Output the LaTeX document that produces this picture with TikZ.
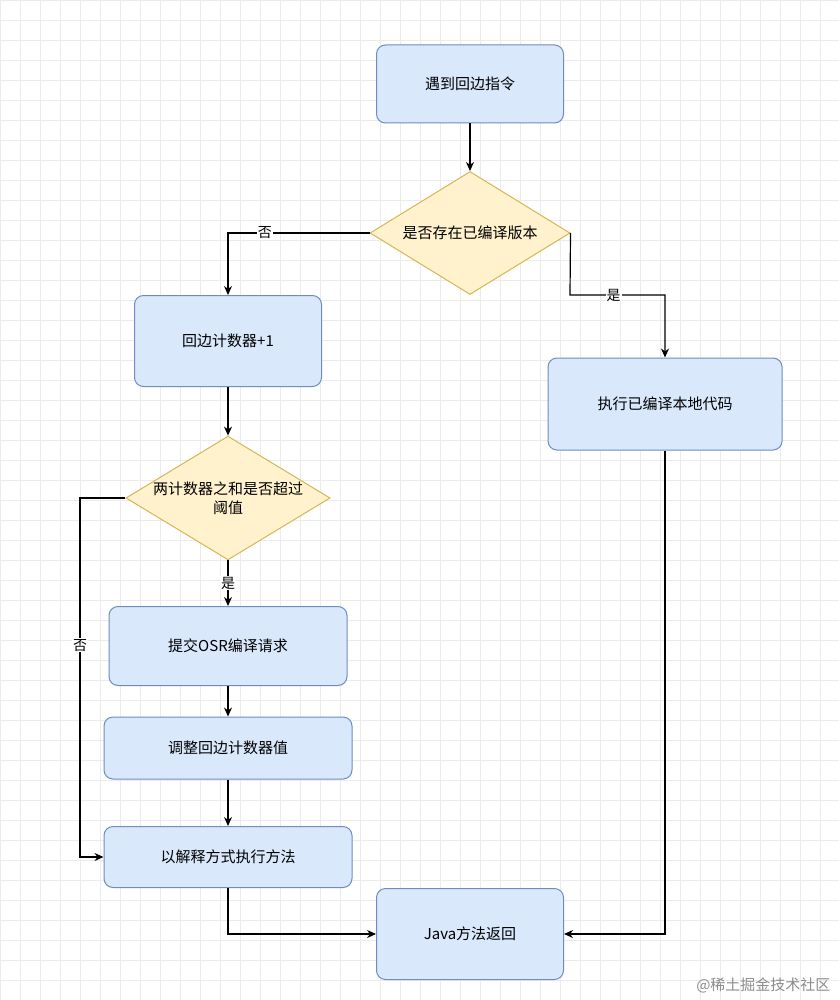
\documentclass[tikz,border=0pt]{standalone}
\usepackage{fontspec}
\setmainfont{Noto Sans CJK SC}
\usetikzlibrary{shapes.geometric,arrows.meta}
\definecolor{bfill}{HTML}{DAE8FC}\definecolor{bline}{HTML}{6C8EBF}
\definecolor{yfill}{HTML}{FFF2CC}\definecolor{yline}{HTML}{D6B656}
\begin{document}
\begin{tikzpicture}[x=1pt,y=-1pt,
 box/.style={draw=bline,fill=bfill,rounded corners=9pt,line width=1pt,minimum width=#1,font=\fontsize{15}{19}\selectfont,align=center},
 dia/.style={diamond,draw=yline,fill=yfill,line width=1pt,aspect=1.65,inner sep=0pt,font=\fontsize{15}{19}\selectfont,align=center},
 arr/.style={-{Stealth[length=9pt,width=8pt]},line width=1.2pt},
 lab/.style={fill=white,inner sep=1pt,font=\fontsize{14}{16}\selectfont}]
\useasboundingbox (0,0) rectangle (839,1000);
\fill[white] (0,0) rectangle (839,1000);
\foreach \i in {0,20,...,839} \draw[black!8,line width=0.5pt] (\i,0)--(\i,1000);
\foreach \i in {0,20,...,1000} \draw[black!8,line width=0.5pt] (0,\i)--(839,\i);
\node[box=187pt,minimum height=78pt] (A) at (470,84) {遇到回边指令};
\node[dia,minimum width=200pt,minimum height=123pt] (D1) at (470,233) {是否存在已编译版本};
\node[box=187pt,minimum height=91pt] (B) at (228,341) {回边计数器+1};
\node[box=234pt,minimum height=92pt] (C) at (665,404) {执行已编译本地代码};
\node[dia,minimum width=204pt,minimum height=123pt] (D2) at (228,498) {两计数器之和是否超过\\阈值};
\node[box=238pt,minimum height=79pt] (E) at (228,646) {提交OSR编译请求};
\node[box=248pt,minimum height=62pt] (F) at (228,748) {调整回边计数器值};
\node[box=248pt,minimum height=61pt] (G) at (228,857) {以解释方式执行方法};
\node[box=187pt,minimum height=91pt] (H) at (470,934) {Java方法返回};
\draw[arr] (A)--(D1);
\draw[arr] (D1.west)-|(B.north) node[lab,pos=0.37]{否};
\draw[arr] (D1.east)--(570,295)-|(C.north) node[lab,pos=0.23]{是};
\draw[arr] (B)--(D2);
\draw[arr] (D2)--(E) node[lab,midway]{是};
\coordinate (g1) at (80,498);
\draw[arr] (D2.west)--(g1)|-(G.west) node[lab,pos=0.205]{否};
\draw[arr] (E)--(F);
\draw[arr] (F)--(G);
\draw[arr] (G.south)|-(H.west);
\draw[arr] (C.south)|-(H.east);
\node[text=black!45,font=\fontsize{15}{17}\selectfont,anchor=east] (W) at (834,985) {@稀土掘金技术社区};
\end{tikzpicture}
\end{document}
